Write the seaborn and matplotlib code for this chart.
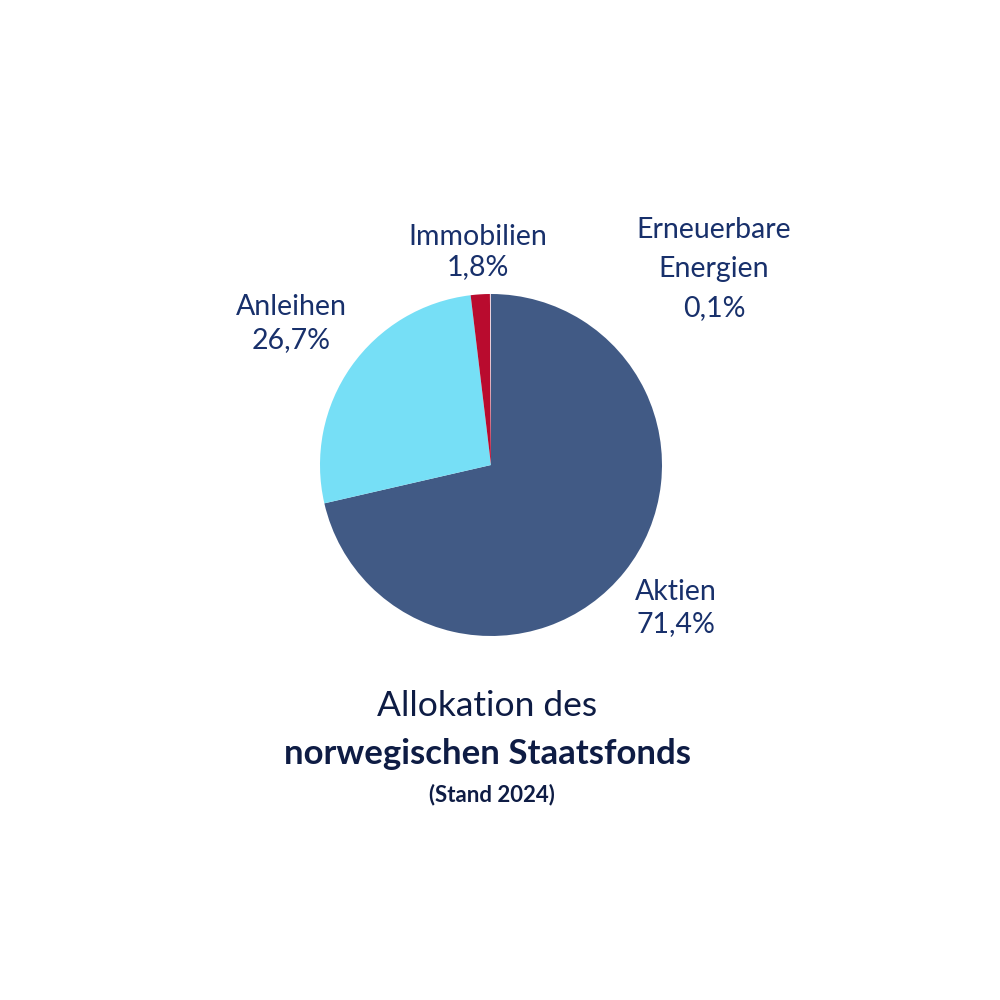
import matplotlib
matplotlib.use("Agg")
import matplotlib.pyplot as plt
import seaborn as sns

sns.set_theme(style="white")
plt.rcParams['font.family'] = ['Lato', 'DejaVu Sans']

categories = ["Aktien", "Anleihen", "Immobilien", "Erneuerbare\nEnergien"]
values = [71.4, 26.7, 1.8, 0.1]
value_labels = ["71,4%", "26,7%", "1,8%", "0,1%"]
colors = ["#415a85", "#76dff6", "#b90b2e", "#ead0dc"]

label_color = "#18306b"
title_color = "#0e1c44"

fig = plt.figure(figsize=(10, 10), dpi=100)
fig.patch.set_facecolor("white")
ax = fig.add_axes([0.320, 0.364, 0.342, 0.342])
ax.pie(values, colors=colors, startangle=90, counterclock=False,
       wedgeprops=dict(linewidth=0), radius=1.0)
ax.set_xlim(-1, 1)
ax.set_ylim(-1, 1)
ax.set_aspect("equal")
ax.axis("off")

fs = 20.5
def px(x, y):
    return x / 1000, 1 - y / 1000

# Aktien
fig.text(*px(676, 592), categories[0], ha="center", va="center", fontsize=fs, color=label_color)
fig.text(*px(676, 624), value_labels[0], ha="center", va="center", fontsize=fs, color=label_color)
# Anleihen
fig.text(*px(291, 307), categories[1], ha="center", va="center", fontsize=fs, color=label_color)
fig.text(*px(291, 340), value_labels[1], ha="center", va="center", fontsize=fs, color=label_color)
# Immobilien
fig.text(*px(478, 237), categories[2], ha="center", va="center", fontsize=fs, color=label_color)
fig.text(*px(478, 267), value_labels[2], ha="center", va="center", fontsize=fs, color=label_color)
# Erneuerbare Energien
ern1, ern2 = categories[3].split("\n")
fig.text(*px(714, 230), ern1, ha="center", va="center", fontsize=fs, color=label_color)
fig.text(*px(714, 269), ern2, ha="center", va="center", fontsize=fs, color=label_color)
fig.text(*px(714, 308), value_labels[3], ha="center", va="center", fontsize=fs, color=label_color)

# Title
fig.text(*px(487, 706), "Allokation des", ha="center", va="center", fontsize=25.5, color=title_color)
fig.text(*px(487, 754), "norwegischen Staatsfonds", ha="center", va="center", fontsize=25,
         fontweight="bold", color=title_color)
fig.text(*px(492, 795), "(Stand 2024)", ha="center", va="center", fontsize=16,
         fontweight="bold", color=title_color)

fig.savefig("out.png", dpi=100, facecolor="white")
